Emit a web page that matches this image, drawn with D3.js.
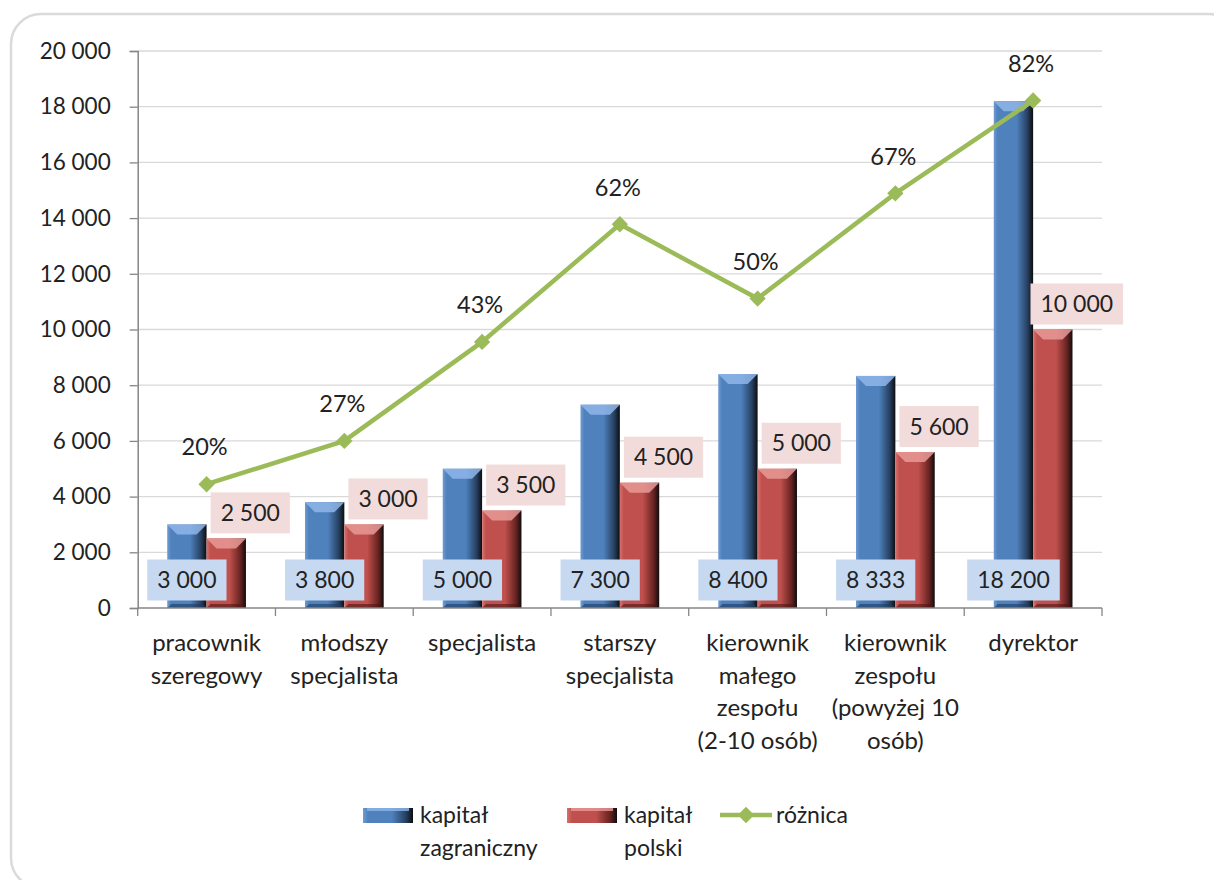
<!DOCTYPE html>
<html>
<head>
<meta charset="utf-8">
<script src="https://cdn.jsdelivr.net/npm/d3@7"></script>
<style>
  body { margin: 0; background: #fff; }
  text { font-family: Lato, "Open Sans", sans-serif; fill: #222; }
</style>
</head>
<body>
<div id="chart"></div>
<script>
// chart data
var categories = [
  ["pracownik", "szeregowy"],
  ["młodszy", "specjalista"],
  ["specjalista"],
  ["starszy", "specjalista"],
  ["kierownik", "małego", "zespołu", "(2-10 osób)"],
  ["kierownik", "zespołu", "(powyżej 10", "osób)"],
  ["dyrektor"]
];
var foreignCap = [3000, 3800, 5000, 7300, 8400, 8333, 18200];
var polishCap = [2500, 3000, 3500, 4500, 5000, 5600, 10000];
var diffPct = [0.20, 0.27, 0.43, 0.62, 0.50, 0.67, 0.82];
var yTicks = [0, 2000, 4000, 6000, 8000, 10000, 12000, 14000, 16000, 18000, 20000];
var seriesNames = [["kapitał", "zagraniczny"], ["kapitał", "polski"], ["różnica"]];

var svgWidth = 1214, svgHeight = 880;
var plotLeft = 137.7, plotRight = 1102, plotTop = 51, plotBottom = 608;

var svg = d3.select("#chart").append("svg")
  .attr("width", svgWidth).attr("height", svgHeight);

// outer rounded frame (runs off the right and bottom edges)
svg.append("rect")
  .attr("x", 11).attr("y", 14)
  .attr("width", 1228).attr("height", 874)
  .attr("rx", 30)
  .attr("fill", "#fff").attr("stroke", "#dadada").attr("stroke-width", 2.5);

var defs = svg.append("defs");
function barGrad(id, light, main, dark) {
  var g = defs.append("linearGradient").attr("id", id)
    .attr("x1", "0").attr("x2", "1").attr("y1", "0").attr("y2", "0");
  g.append("stop").attr("offset", "0%").attr("stop-color", light);
  g.append("stop").attr("offset", "10%").attr("stop-color", main);
  g.append("stop").attr("offset", "58%").attr("stop-color", main);
  g.append("stop").attr("offset", "86%").attr("stop-color", dark);
  g.append("stop").attr("offset", "100%").attr("stop-color", "#0d0d0d");
}
barGrad("gBlue", "#6f9bd3", "#4f81bd", "#263f60");
barGrad("gRed", "#d8706d", "#c0504d", "#672321");

var x = d3.scaleBand().domain(d3.range(categories.length)).range([plotLeft, plotRight]).paddingInner(0).paddingOuter(0);
var y = d3.scaleLinear().domain([0, 20000]).range([plotBottom, plotTop]);
var y2 = d3.scaleLinear().domain([0, 0.9]).range([plotBottom, plotTop]);
var barW = x.bandwidth() / 3.5;
var gap = barW * 0.75;
var fmt = function(d) { return d3.format(",")(d).replace(/,/g, " "); };

// gridlines
svg.append("g").selectAll("line").data(yTicks.slice(1)).enter().append("line")
  .attr("x1", plotLeft).attr("x2", plotRight)
  .attr("y1", function(d) { return y(d); }).attr("y2", function(d) { return y(d); })
  .attr("stroke", "#d9d9d9").attr("stroke-width", 1.3);

// y axis
var yAxis = svg.append("g").attr("transform", "translate(" + plotLeft + ",0)")
  .call(d3.axisLeft(y).tickValues(yTicks).tickSize(8).tickPadding(19).tickFormat(fmt));
yAxis.select(".domain").attr("stroke", "#868686").attr("stroke-width", 1.5);
yAxis.selectAll(".tick line").attr("stroke", "#868686").attr("stroke-width", 1.3);
yAxis.selectAll("text").attr("font-size", 22.5).attr("fill", "#222")
  .style("font-family", "Lato, sans-serif");

// bars
function drawBar(x0, val, grad, light, dark) {
  var y0 = y(val), h = plotBottom - y0, b = Math.min(10, h / 2);
  var g = svg.append("g");
  g.append("rect").attr("x", x0).attr("y", y0).attr("width", barW).attr("height", h)
    .attr("fill", "url(#" + grad + ")");
  // top bevel
  g.append("polygon")
    .attr("points", [[x0, y0], [x0 + barW, y0], [x0 + barW - b, y0 + b], [x0 + b, y0 + b]].join(" "))
    .attr("fill", light).attr("opacity", 0.85);
  // bottom bevel
  g.append("polygon")
    .attr("points", [[x0, plotBottom], [x0 + barW, plotBottom], [x0 + barW - 4, plotBottom - 4], [x0 + 4, plotBottom - 4]].join(" "))
    .attr("fill", dark).attr("opacity", 0.6);
}

categories.forEach(function(c, i) {
  var bx = x(i) + gap;
  drawBar(bx, foreignCap[i], "gBlue", "#8fb6ea", "#1f3a5c");
  drawBar(bx + barW, polishCap[i], "gRed", "#e89a98", "#4a1514");
});

// x axis
var xAxisG = svg.append("g");
xAxisG.append("line").attr("x1", plotLeft).attr("x2", plotRight).attr("y1", plotBottom).attr("y2", plotBottom)
  .attr("stroke", "#868686").attr("stroke-width", 1.5);
d3.range(categories.length + 1).forEach(function(i) {
  var tx = plotLeft + i * x.bandwidth();
  xAxisG.append("line").attr("x1", tx).attr("x2", tx).attr("y1", plotBottom).attr("y2", plotBottom + 8)
    .attr("stroke", "#868686").attr("stroke-width", 1.3);
});
categories.forEach(function(lines, i) {
  lines.forEach(function(l, j) {
    svg.append("text").attr("x", x(i) + x.bandwidth() / 2).attr("y", 643 + j * 32.5)
      .attr("dy", ".35em").attr("text-anchor", "middle").attr("font-size", 24).text(l);
  });
});

// data labels
function label(cx, cy, txt, fill) {
  var t = svg.append("text").attr("x", cx).attr("y", cy).attr("text-anchor", "middle")
    .attr("dy", ".35em").attr("font-size", 23).text(txt);
  var w = t.node().getComputedTextLength() + 20;
  svg.insert("rect", function() { return t.node(); })
    .attr("x", cx - w / 2).attr("y", cy - 20.5).attr("width", w).attr("height", 41)
    .attr("fill", fill);
}
categories.forEach(function(c, i) {
  var bx = x(i) + gap;
  label(bx + barW / 2, 580, fmt(foreignCap[i]), "#c6d9f1");
  label(bx + barW * 1.5 + 24, y(polishCap[i]) - 25.5, fmt(polishCap[i]), "#f2dcdb");
});

// difference line
var line = d3.line()
  .x(function(d, i) { return x(i) + x.bandwidth() / 2; })
  .y(function(d) { return y2(d); });
svg.append("path").datum(diffPct).attr("d", line)
  .attr("fill", "none").attr("stroke", "#9bbb59").attr("stroke-width", 4.5);
var diamond = d3.symbol().type(d3.symbolDiamond2).size(170);
svg.append("g").selectAll("path").data(diffPct).enter().append("path")
  .attr("d", diamond)
  .attr("transform", function(d, i) { return "translate(" + (x(i) + x.bandwidth() / 2) + "," + y2(d) + ")"; })
  .attr("fill", "#9bbb59");
svg.append("g").selectAll("text").data(diffPct).enter().append("text")
  .attr("x", function(d, i) { return x(i) + x.bandwidth() / 2 - 2; })
  .attr("y", function(d) { return y2(d) - 37; })
  .attr("dy", ".35em").attr("text-anchor", "middle").attr("font-size", 23.5)
  .text(function(d) { return Math.round(d * 100) + "%"; });

// legend
var legend = svg.append("g");
var legX = [363, 567];
var legGrad = ["gBlue", "gRed"];
var legLight = ["#8fb6ea", "#e89a98"];
[0, 1].forEach(function(k) {
  legend.append("rect").attr("x", legX[k]).attr("y", 808).attr("width", 50).attr("height", 15)
    .attr("fill", "url(#" + legGrad[k] + ")");
  legend.append("rect").attr("x", legX[k] + 4).attr("y", 808).attr("width", 42).attr("height", 3)
    .attr("fill", legLight[k]).attr("opacity", 0.8);
  seriesNames[k].forEach(function(l, j) {
    legend.append("text").attr("x", legX[k] + 57).attr("y", 815 + j * 33)
      .attr("dy", ".35em").attr("font-size", 23).text(l);
  });
});
legend.append("line").attr("x1", 720).attr("x2", 772).attr("y1", 815).attr("y2", 815)
  .attr("stroke", "#9bbb59").attr("stroke-width", 4.5);
legend.append("path").attr("d", diamond).attr("transform", "translate(746,815)").attr("fill", "#9bbb59");
legend.append("text").attr("x", 776).attr("y", 815).attr("dy", ".35em").attr("font-size", 23).text(seriesNames[2][0]);
</script>
</body>
</html>
